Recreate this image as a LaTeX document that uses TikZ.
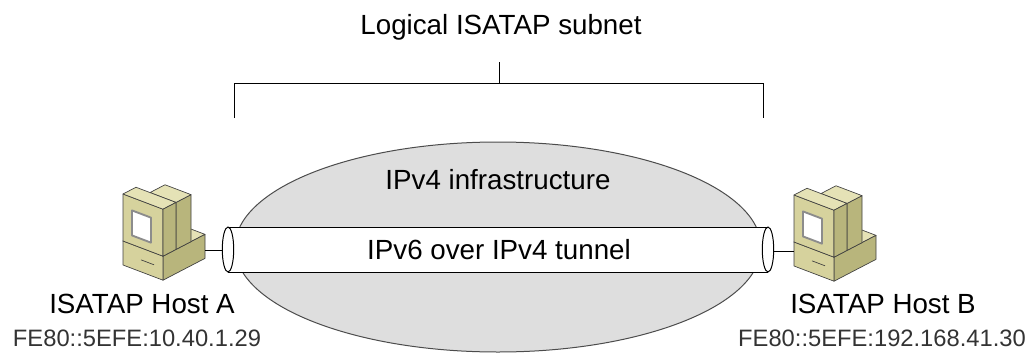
\documentclass[tikz,border=0pt]{standalone}
\usepackage{fontspec}
\setmainfont{Liberation Sans}

\definecolor{casetop}{HTML}{E5E2B6}
\definecolor{caseface}{HTML}{D6D29D}
\definecolor{caseside}{HTML}{B8B57C}
\definecolor{cloudgray}{HTML}{DEDEDE}

\tikzset{
	pics/desktop/.style={code={
		\begin{scope}[x={(0.75pt,-0.285pt)},y={(0pt,0.75pt)},z={(0.75pt,0.39pt)},
			line width=0.5pt, line join=round, draw=black!75]
		% case underneath
		\filldraw[fill=casetop] (0,24,0) -- (40,24,0) -- (40,24,42) -- (0,24,42) -- cycle;
		\filldraw[fill=caseside] (40,0,0) -- (40,0,42) -- (40,24,42) -- (40,24,0) -- cycle;
		\filldraw[fill=caseface] (0,0,0) -- (40,0,0) -- (40,24,0) -- (0,24,0) -- cycle;
		\draw (18,12,0) -- (31,12,0);
		% back of the monitor
		\filldraw[fill=caseside] (40,24,13) -- (40,24,28) -- (40,71,28) -- (40,71,13) -- cycle;
		\filldraw[fill=casetop] (14,71,13) -- (40,71,13) -- (40,71,28) -- (14,71,28) -- cycle;
		% monitor
		\filldraw[fill=caseface] (0,24,0) -- (40,24,0) -- (40,71,0) -- (0,71,0) -- cycle;
		\filldraw[fill=casetop] (0,71,0) -- (40,71,0) -- (40,71,13) -- (0,71,13) -- cycle;
		\filldraw[fill=caseside] (40,24,0) -- (40,24,13) -- (40,71,13) -- (40,71,0) -- cycle;
		\filldraw[fill=white, draw=black!45, line width=1.4pt] (9,33,0) -- (28,33,0) -- (28,58,0) -- (9,58,0) -- cycle;
		\coordinate (-east) at (40,7.4,42);
		\coordinate (-west) at (0,15,0);
		\end{scope}
	}}
}

\begin{document}
\begin{tikzpicture}[x=0.75pt,y=-0.75pt,line width=0.75pt,
		caption/.style={font=\fontsize{20.8}{25}\selectfont, anchor=base, inner sep=0pt},
		address/.style={font=\fontsize{17.8}{21}\selectfont, anchor=base, inner sep=0pt, text=black!80}]
		\useasboundingbox (0,0) rectangle (1026,354);
		
		\node (subnet) [caption, at={(501,34)}] {Logical ISATAP subnet};
		\coordinate (brk) at (499,83);
		\draw (brk) -- ++(0,-21);
		\draw (234,118) -- (234,83) -- (763,83) -- (763,118);
		
		\draw[draw=black!70, fill=cloudgray] (498,247) ellipse (263 and 105);
		\node (infra) [caption, at={(498,189)}] {IPv4 infrastructure};
		
		\fill[white] (228,227) rectangle (768,272);
		\draw (228,227) -- (768,227) (228,272) -- (768,272);
		\draw[fill=white] (228,249.5) ellipse (5.7 and 22.5);
		\draw[fill=white] (768,249.5) ellipse (5.7 and 22.5);
		\coordinate (tunnelW) at (222.3,251);
		\coordinate (tunnelE) at (773.7,251);
		\node (tunnel) [caption, at={(499,259)}] {IPv6 over IPv4 tunnel};
		
		\pic (hostA) at (123,265) {desktop};
		\pic (hostB) at (794,266) {desktop};
		\draw (hostA-east) -- (hostA-east -| tunnelW);
		\draw (tunnelE) -- (tunnelE -| hostB-west);
		
		\node (nameA) [caption, at={(142,313)}] {ISATAP Host A};
		\node (addrA) [address, at={(137,346)}] {FE80::5EFE:10.40.1.29};
		\node (nameB) [caption, at={(883,313)}] {ISATAP Host B};
		\node (addrB) [address, at={(882,346)}] {FE80::5EFE:192.168.41.30};
\end{tikzpicture}
\end{document}
